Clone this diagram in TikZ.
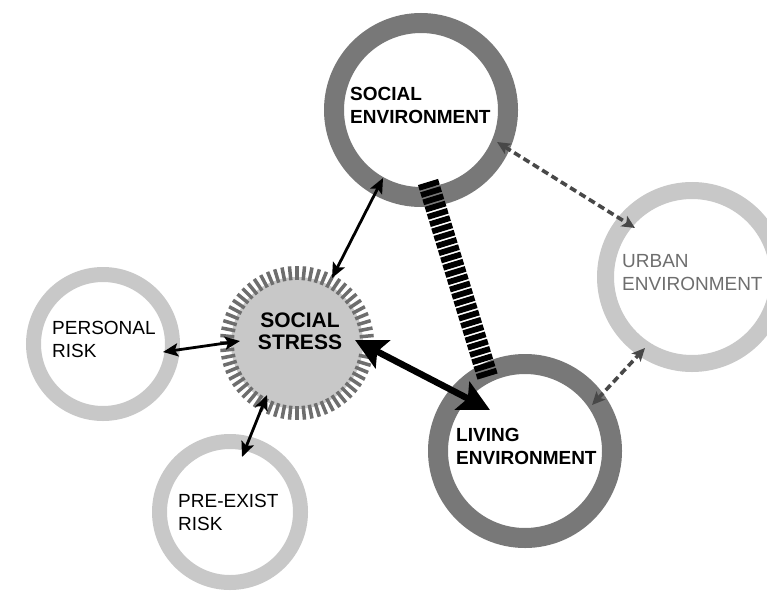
\documentclass[tikz,border=0pt]{standalone}
\usepackage{fontspec}
\setmainfont{Liberation Sans}
\usetikzlibrary{arrows.meta,calc}
\definecolor{darkring}{HTML}{787878}
\definecolor{lightring}{HTML}{C8C8C8}
\definecolor{tickgray}{HTML}{6E6E6E}
\definecolor{dashgray}{HTML}{484848}
\definecolor{urbantext}{HTML}{6E6E6E}
\definecolor{stressfill}{HTML}{C8C8C8}
\begin{document}
\begin{tikzpicture}[x=1pt,y=-1pt,
  ring/.style={circle, inner sep=0pt, outer sep=0pt},
  bigring/.style={ring, draw=darkring, line width=20pt, minimum size=174pt},
  smallring/.style={ring, draw=lightring, line width=15pt},
  thinarrow/.style={line width=2.8pt, black, {Stealth[length=15pt,width=13pt,inset=3pt]}-{Stealth[length=15pt,width=13pt,inset=3pt]}},
  fatarrow/.style={line width=6.5pt, black, {Stealth[length=31pt,width=31pt,inset=6pt]}-{Stealth[length=31pt,width=31pt,inset=6pt]}},
  dasharrow/.style={line width=3.6pt, dashgray, dash pattern=on 7pt off 4pt, {Stealth[length=13pt,width=12pt,inset=3pt]}-{Stealth[length=13pt,width=12pt,inset=3pt]}},
  ladder/.style={line width=21pt, black, dash pattern=on 5.8pt off 1.8pt},
  lbl/.style={anchor=north west, inner sep=0pt, align=left, font=\fontsize{19}{23}\selectfont},
]
\useasboundingbox (0,0) rectangle (767,594);
\fill[white] (0,0) rectangle (767,594);

% rings
\node[bigring] (se) at (421,110) {};
\node[bigring] (le) at (525,451) {};
\node[ring, draw=lightring, line width=17pt, minimum size=173pt] (ue) at (692,277) {};
\node[smallring, minimum size=139pt] (pr) at (103,344) {};
\node[smallring, minimum size=141pt] (pe) at (230,512) {};

% social stress
\node[ring, fill=stressfill, minimum size=132pt] (ss) at (297,343) {};
\foreach \a in {0,5.625,...,354}
  \draw[tickgray, line width=3.5pt] ($(ss)+(\a:63pt)$) -- ($(ss)+(\a:77pt)$);

% connectors
\draw[ladder] ($(se)+(7,72)$) -- ($(le)+(-37,-73)$);
\draw[thinarrow] ($(ss)+(35,-65)$) -- ($(se)+(-38,68)$);
\draw[thinarrow] ($(pr)+(60,8)$) -- ($(ss)+(-57,-2)$);
\draw[thinarrow] ($(ss)+(-30,52)$) -- ($(pe)+(12,-55)$);
\draw[fatarrow] ($(ss)+(58,-3)$) -- ($(le)+(-35,-41)$);
\draw[dasharrow] ($(se)+(76,32)$) -- ($(ue)+(-57,-49)$);
\draw[dasharrow] ($(le)+(67,-46)$) -- ($(ue)+(-47,71)$);

% labels
\node[lbl, font=\fontsize{19}{23}\selectfont\bfseries] (tse) at (350,87.4) {SOCIAL\\ENVIRONMENT};
\node[lbl, font=\fontsize{19}{23}\selectfont\bfseries] (tle) at (456,428.4) {LIVING\\ENVIRONMENT};
\node[lbl, text=urbantext] (tue) at (622,254.4) {URBAN\\ENVIRONMENT};
\node[lbl] (tpr) at (52,321.4) {PERSONAL\\RISK};
\node[lbl] (tpe) at (178,494.4) {PRE-EXIST\\RISK};
\node[anchor=north, inner sep=0pt, align=center, font=\fontsize{21}{22}\selectfont\bfseries] (tss) at (300,313) {SOCIAL\\STRESS};
\end{tikzpicture}
\end{document}
